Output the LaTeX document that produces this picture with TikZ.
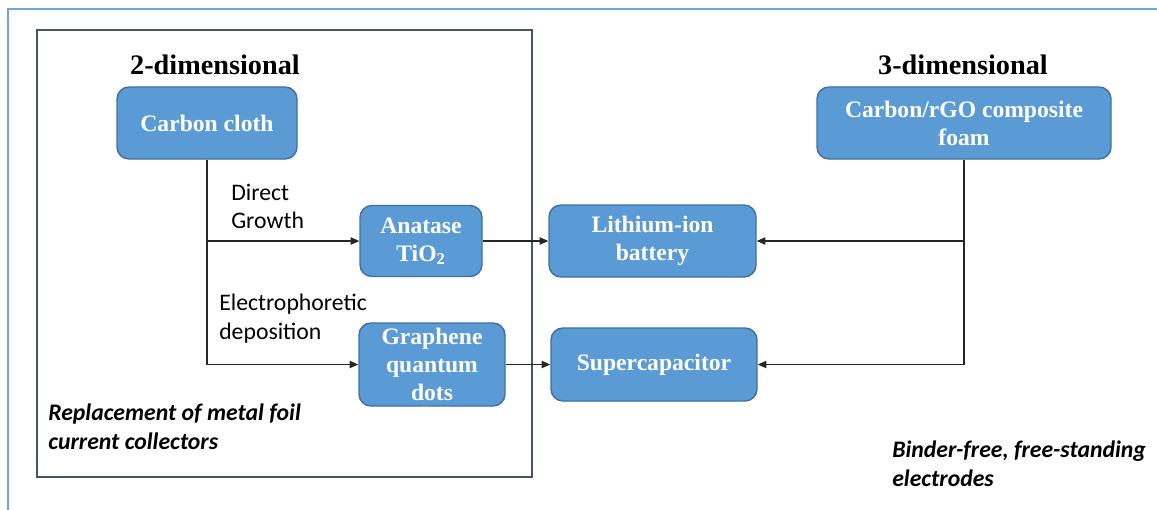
\documentclass[tikz,border=0pt]{standalone}
\usepackage{fontspec}
\setmainfont{Liberation Serif}
\newfontfamily\calib{Carlito}
\usetikzlibrary{arrows.meta}
\definecolor{boxfill}{HTML}{5B9BD5}
\definecolor{boxline}{HTML}{41719C}
\definecolor{framec}{HTML}{44546A}
\definecolor{outerc}{HTML}{6FA3DC}
\tikzset{
  blk/.style={draw=boxline, fill=boxfill, line width=1.1pt, rounded corners=9pt,
    text=white, font=\fontsize{17.7}{21}\selectfont\bfseries, align=center, inner sep=0pt},
  ttl/.style={font=\fontsize{21.2}{25}\selectfont\bfseries, inner sep=0pt},
  lbl/.style={font=\calib\fontsize{17.8}{21.6}\selectfont, align=left, anchor=west, inner sep=0pt},
  ilbl/.style={font=\calib\bfseries\itshape\fontsize{17.8}{22}\selectfont, align=left, anchor=west, inner sep=0pt},
  arr/.style={draw=black!85, line width=0.8pt, -{Triangle[length=6.5pt,width=5.5pt]}},
}
\begin{document}
\begin{tikzpicture}[x=0.75pt,y=-0.75pt]
\useasboundingbox (0,0) rectangle (1157,510);
\fill[white] (0,0) rectangle (1157,510);
% outer frame lines
\draw[outerc, line width=1.3pt] (8,510) -- (8,9) -- (1157,9);
% inner frame
\draw[framec, line width=1.2pt] (37,30) rectangle (532,477);
% titles
\node[ttl] (t2) at (215,65) {2-dimensional};
\node[ttl] (t3) at (963,65) {3-dimensional};
% boxes
\node[blk, minimum width=135pt, minimum height=54pt] (cc) at (207,123) {Carbon cloth};
\node[blk, minimum width=91.5pt, minimum height=53.25pt] (ana) at (421,241) {Anatase\\TiO\textsubscript{2}};
\node[blk, minimum width=109.5pt, minimum height=62.25pt] (gqd) at (432,364.5) {Graphene\\quantum\\dots};
\node[blk, minimum width=155.25pt, minimum height=54pt] (li) at (652.5,241) {Lithium-ion\\battery};
\node[blk, minimum width=154.5pt, minimum height=54.75pt] (sc) at (654,364.5) {Supercapacitor};
\node[blk, minimum width=220.5pt, minimum height=54pt] (foam) at (964,123) {Carbon/rGO composite\\foam};
% labels
\node[lbl] (dg) at (231,206.5) {Direct\\Growth};
\node[lbl] (ep) at (219,319) {Electrophoretic\\deposition};
\node[ilbl] (rep) at (48,427) {Replacement of metal foil\\current collectors};
\node[ilbl] (bf) at (892,464) {Binder-free, free-standing\\electrodes};
% connectors
\draw[arr] (cc.south) |- (ana.west);
\draw[arr] (cc.south) |- (gqd.west);
\draw[arr] (ana.east) -- (li.west);
\draw[arr] (gqd.east) -- (sc.west);
\draw[arr] (foam.south) |- (li.east);
\draw[arr] (foam.south) |- (sc.east);
\end{tikzpicture}
\end{document}
